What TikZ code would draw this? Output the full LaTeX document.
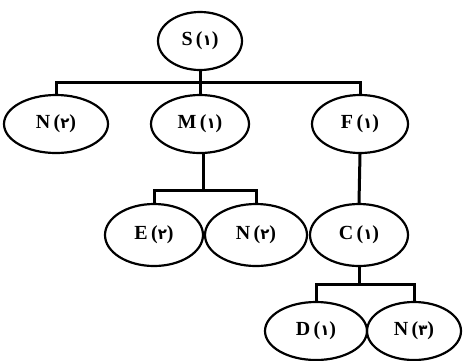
\documentclass[tikz,border=0pt]{standalone}
\usepackage{fontspec}
\setmainfont{Liberation Serif}
\newfontfamily\digfont{DejaVu Sans}
\usetikzlibrary{shapes.geometric}
\tikzset{
  x=1pt,y=-1pt,
  nd/.style={draw,ellipse,line width=2.2pt,inner sep=0pt,minimum height=58pt,font=\fontsize{20}{20}\selectfont\bfseries},
  bar/.style={line width=3pt}
}
\newcommand{\lbl}[2]{#1\,({\digfont\bfseries\fontsize{15}{15}\selectfont #2})}
\begin{document}
\begin{tikzpicture}
\useasboundingbox (0,0) rectangle (463,360);
\node[nd,minimum width=84pt] (S) at (200,41) {\lbl{S}{١}};
\node[nd,minimum width=104pt] (N1) at (56,124) {\lbl{N}{٢}};
\node[nd,minimum width=98pt] (M) at (200,124) {\lbl{M}{١}};
\node[nd,minimum width=96pt] (F) at (360,124) {\lbl{F}{١}};
\node[nd,minimum width=98pt,minimum height=62pt] (E) at (154,235) {\lbl{E}{٢}};
\node[nd,minimum width=102pt,minimum height=62pt] (N2) at (256,235) {\lbl{N}{٢}};
\node[nd,minimum width=98pt,minimum height=62pt] (C) at (359,235) {\lbl{C}{١}};
\node[nd,minimum width=102pt] (D) at (316,331) {\lbl{D}{١}};
\node[nd,minimum width=94pt] (N3) at (414,331) {\lbl{N}{٣}};
\coordinate (b1) at (200,82);
\coordinate (b2) at (203,190);
\coordinate (b3) at (359,284);
\draw[bar] (S.south) -- (b1);
\draw[bar] (N1.north) |- (b1) -| (F.north);
\draw[bar] (b1) -- (M.north);
\draw[bar] (M.south -| b2) -- (b2);
\draw[bar] (E.north) |- (b2) -| (N2.north);
\draw[bar] (F.south) -- (C.north);
\draw[bar] (C.south) -- (b3);
\draw[bar] (D.north) |- (b3) -| (N3.north);
\end{tikzpicture}
\end{document}
